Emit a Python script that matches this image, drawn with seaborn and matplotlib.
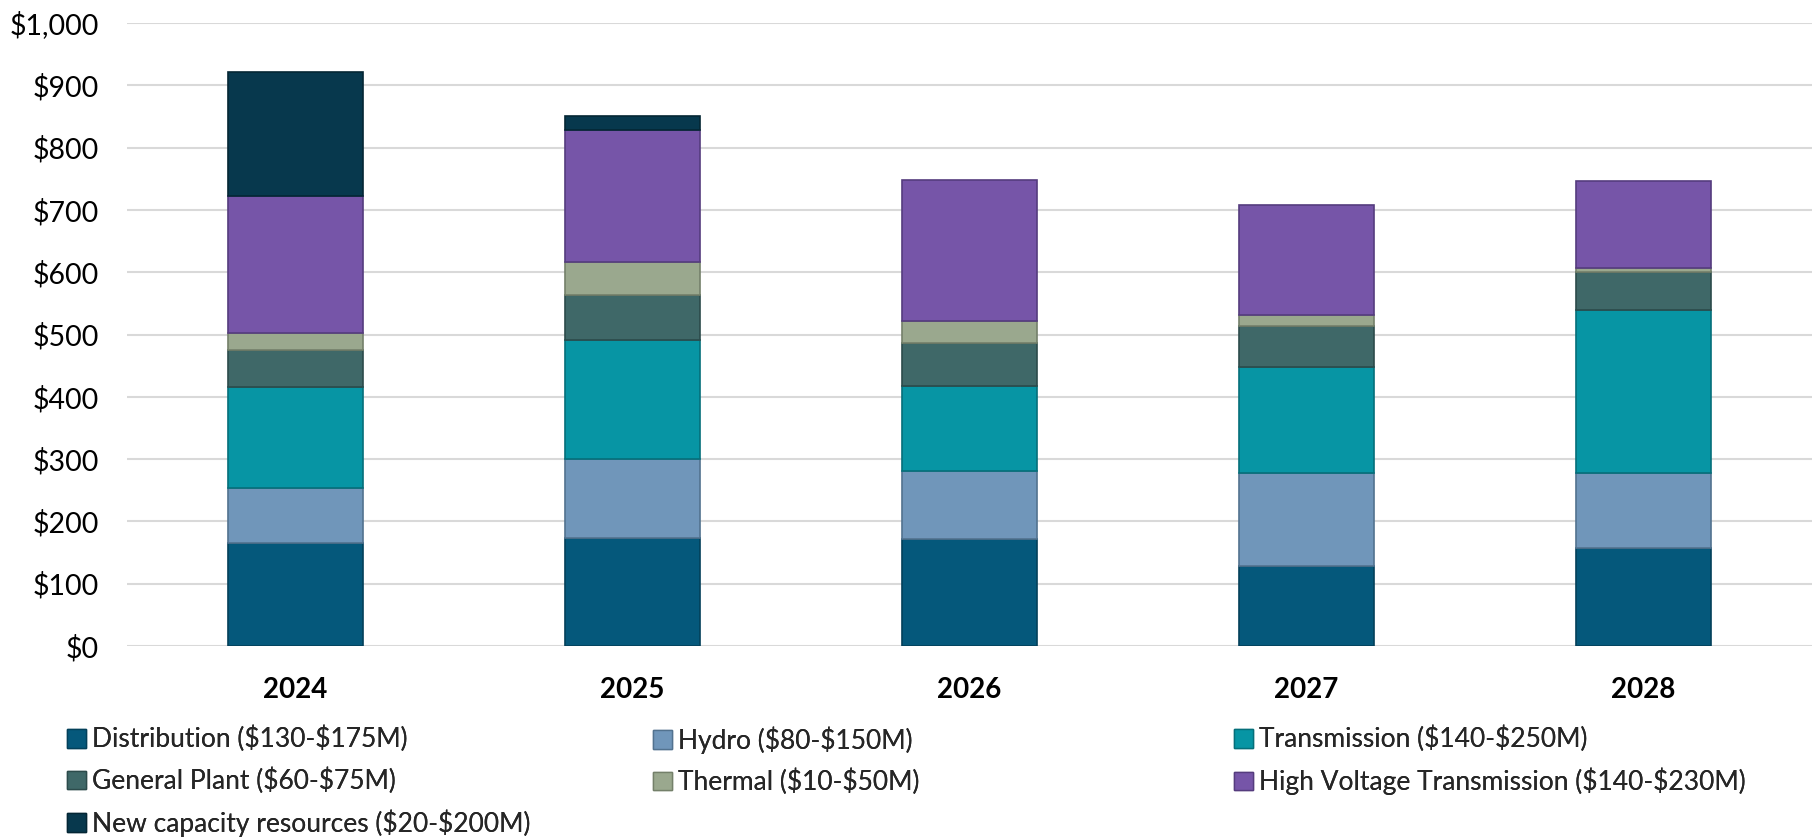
import matplotlib
matplotlib.use("Agg")
import matplotlib.pyplot as plt
import matplotlib.ticker as mticker
from matplotlib.patches import Patch
import pandas as pd
import seaborn as sns

# capital spend by category, $M
years = ["2024", "2025", "2026", "2027", "2028"]
distribution = [166, 173, 172, 129, 158]
hydro = [87, 127, 109, 148, 119]
transmission = [163, 191, 136, 171, 262]
general_plant = [59, 72, 70, 66, 61]
thermal = [27, 53, 34, 18, 6]
hv_transmission = [220, 213, 227, 176, 140]
new_capacity = [200, 22, 0, 0, 0]

series_names = [
    "Distribution ($130-$175M)",
    "Hydro ($80-$150M)",
    "Transmission ($140-$250M)",
    "General Plant ($60-$75M)",
    "Thermal ($10-$50M)",
    "High Voltage Transmission ($140-$230M)",
    "New capacity resources ($20-$200M)",
]
series_values = [distribution, hydro, transmission, general_plant,
                 thermal, hv_transmission, new_capacity]
colors = ["#05587B", "#7096BA", "#0795A4", "#3F6868",
          "#9AA88E", "#7655A8", "#07384D"]
edge_colors = ["#03405A", "#52728F", "#056F7A", "#2C4B4B",
               "#74806A", "#553C7E", "#042634"]

sns.set_theme(style="white")
plt.rcParams["font.family"] = ["Lato", "DejaVu Sans"]

fig = plt.figure(figsize=(18.14, 8.39), dpi=100)
ax = fig.add_axes([0.070, 0.230, 0.929, 0.7426])

bottom = [0] * len(years)
for name, vals, col, ec in zip(series_names, series_values, colors, edge_colors):
    df = pd.DataFrame({"year": years, "value": vals})
    sns.barplot(data=df, x="year", y="value", order=years, color=col,
                width=0.40, bottom=bottom, edgecolor=ec, linewidth=1.2,
                saturation=1, errorbar=None, ax=ax, zorder=3)
    bottom = [b + v for b, v in zip(bottom, vals)]

# empty segments would still show their outline
for p in ax.patches:
    if p.get_height() == 0:
        p.set_visible(False)

ax.set_ylim(0, 1000)
ax.set_xlim(-0.5, 4.5)
ax.yaxis.set_major_locator(mticker.MultipleLocator(100))
ax.yaxis.set_major_formatter(mticker.StrMethodFormatter("${x:,.0f}"))
ax.grid(axis="y", color="#D9D9D9", linewidth=1.5, zorder=0)
ax.grid(axis="x", visible=False)
for s in ax.spines.values():
    s.set_visible(False)
ax.set_xlabel("")
ax.set_ylabel("")
ax.tick_params(axis="y", labelsize=20.5, colors="#000000", length=0, pad=20)
ax.tick_params(axis="x", labelsize=20, colors="#000000", length=0, pad=22)
for lbl in ax.get_xticklabels():
    lbl.set_fontweight("bold")

# legend laid out row by row in three columns, like the original
handles = [Patch(facecolor=c, edgecolor=e, linewidth=1) for c, e in zip(colors, edge_colors)]
labels = [n.replace("$", r"\$") for n in series_names]
columns = [[0, 3, 6], [1, 4], [2, 5]]
col_x = [67, 653, 1234]
for idx, x0 in zip(columns, col_x):
    leg = fig.legend([handles[i] for i in idx], [labels[i] for i in idx],
                     loc="upper left", bbox_to_anchor=(x0 / 1814, 1 - 726 / 839),
                     frameon=False, fontsize=19, handlelength=0.72, handleheight=0.72,
                     handletextpad=0.22, labelspacing=0.58, borderpad=0, borderaxespad=0)
    fig.add_artist(leg)

fig.savefig("out.png", dpi=100)
